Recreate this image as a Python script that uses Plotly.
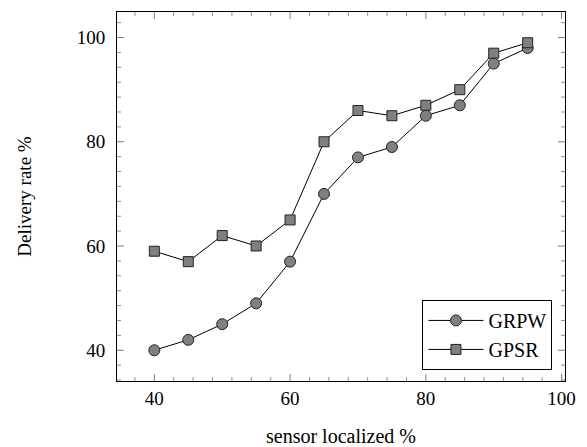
import plotly.graph_objects as go

x_vals = [40, 45, 50, 55, 60, 65, 70, 75, 80, 85, 90, 95]
grpw = [40, 42, 45, 49, 57, 70, 77, 79, 85, 87, 95, 98]
gpsr = [59, 57, 62, 60, 65, 80, 86, 85, 87, 90, 97, 99]
x_ticks = [40, 60, 80, 100]
y_ticks = [40, 60, 80, 100]
x_range = [34.5, 100.5]
y_range = [34.1, 104.9]
MINOR_STEP = 20 / 7

FONT = "Liberation Serif"


def minor_positions(lo, hi):
    vals = []
    k = -10
    while True:
        v = 40 + k * MINOR_STEP
        if v > hi:
            break
        if v >= lo and all(abs(v - t) > 1e-6 for t in x_ticks + y_ticks):
            vals.append(v)
        k += 1
    return vals


fig = go.Figure()
fig.add_trace(go.Scatter(
    x=x_vals, y=grpw, name="GRPW", mode="lines+markers",
    line=dict(color="black", width=1),
    marker=dict(symbol="circle", size=11, color="#808080",
                line=dict(color="#222222", width=1)),
))
fig.add_trace(go.Scatter(
    x=x_vals, y=gpsr, name="GPSR", mode="lines+markers",
    line=dict(color="black", width=1),
    marker=dict(symbol="square", size=10, color="#808080",
                line=dict(color="#222222", width=1)),
))

# tick marks on all four sides (inside), drawn as pixel-sized shapes
shapes = []
def add_xtick(v, length, color):
    for anchor, sign in ((0, 1), (1, -1)):
        shapes.append(dict(type="line", xref="x", yref="paper",
                           x0=v, x1=v, ysizemode="pixel", yanchor=anchor,
                           y0=0, y1=sign * length,
                           line=dict(color=color, width=1), layer="above"))

def add_ytick(v, length, color):
    for anchor, sign in ((0, 1), (1, -1)):
        shapes.append(dict(type="line", xref="paper", yref="y",
                           y0=v, y1=v, xsizemode="pixel", xanchor=anchor,
                           x0=0, x1=sign * length,
                           line=dict(color=color, width=1), layer="above"))

for v in x_ticks:
    if x_range[0] <= v <= x_range[1]:
        add_xtick(v, 7, "#7a7a7a")
for v in minor_positions(*x_range):
    add_xtick(v, 4, "#909090")
for v in y_ticks:
    if y_range[0] <= v <= y_range[1]:
        add_ytick(v, 7, "#7a7a7a")
for v in minor_positions(*y_range):
    add_ytick(v, 4, "#909090")

axis_common = dict(
    showgrid=False, zeroline=False, showline=True, linecolor="black",
    linewidth=1, mirror=True, ticks="", automargin=False,
    tickfont=dict(family=FONT, size=19, color="black"),
)

fig.update_xaxes(
    range=x_range, tickvals=x_ticks, ticktext=[str(v) for v in x_ticks],
    title=dict(text="sensor localized %", font=dict(family=FONT, size=20, color="black"),
               standoff=24),
    **axis_common,
)
fig.update_yaxes(
    range=y_range, tickvals=y_ticks, ticktext=[str(v) for v in y_ticks],
    ticklabelstandoff=7,
    title=dict(text="Delivery rate %", font=dict(family=FONT, size=19, color="black"),
               standoff=40),
    **axis_common,
)

fig.update_layout(
    width=579, height=439,
    margin=dict(l=109, r=22, t=4, b=66),
    plot_bgcolor="white", paper_bgcolor="white",
    font=dict(family=FONT, color="black"),
    shapes=shapes,
    legend=dict(
        x=0.972, y=0.03, xanchor="right", yanchor="bottom",
        bordercolor="black", borderwidth=1, bgcolor="white",
        font=dict(family=FONT, size=20, color="black"),
        itemwidth=55, tracegroupgap=0,
    ),
)

fig.write_html("out.html")
